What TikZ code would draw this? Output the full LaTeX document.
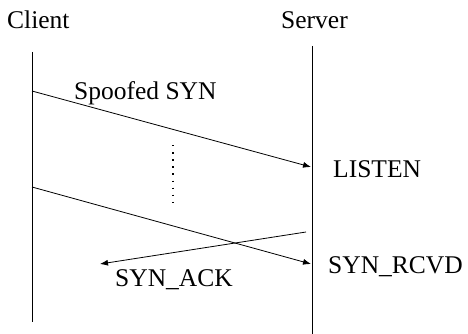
\documentclass[tikz,border=0pt]{standalone}
\usepackage{fontspec}
\setmainfont{Liberation Serif}
\usetikzlibrary{arrows.meta}
\begin{document}
\begin{tikzpicture}[x=1pt,y=-1pt,
  lbl/.style={inner sep=0pt,anchor=base west,font=\fontsize{25.5}{28}\selectfont},
  life/.style={line width=0.8pt},
  msg/.style={line width=0.8pt,-{Latex[length=8pt,width=6pt]}},
  dotline/.style={line width=1.4pt,dash pattern=on 1.4pt off 5.7pt}]
\useasboundingbox[fill=white] (0,0) rectangle (468,334);
% participants
\node[lbl] (client) at (7,29) {Client};
\node[lbl] (server) at (281,29) {Server};
% lifelines
\coordinate (ctop) at (32,52);
\coordinate (cbot) at (32,322);
\coordinate (stop) at (312,46);
\coordinate (sbot) at (312,334);
\draw[life] (ctop) -- (cbot);
\draw[life] (stop) -- (sbot);
% first spoofed SYN
\coordinate (m1s) at (32,91);
\coordinate (m1e) at (311,167);
\draw[msg] (m1s) -- (m1e);
\node[lbl] (spoof) at (74,100) {Spoofed SYN};
\node[lbl] (listen) at (333,177) {LISTEN};
% more SYNs in between
\coordinate (dtop) at (173,145);
\coordinate (dbot) at (173,204);
\draw[dotline] (dtop) -- (dbot);
% last spoofed SYN
\coordinate (m2s) at (32,187);
\coordinate (m2e) at (311,264);
\draw[msg] (m2s) -- (m2e);
\node[lbl] (rcvd) at (328,273) {SYN\_RCVD};
% SYN_ACK reply
\coordinate (m3s) at (306,232);
\coordinate (m3e) at (100,264);
\draw[msg] (m3s) -- (m3e);
\node[lbl] (ack) at (115,286) {SYN\_ACK};
\end{tikzpicture}
\end{document}
